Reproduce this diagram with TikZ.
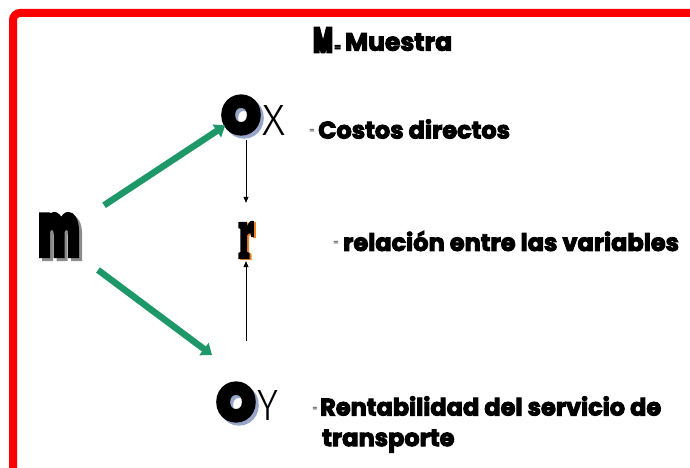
\documentclass[tikz,border=0pt]{standalone}
\usepackage{fontspec}
\setmainfont{Poppins}[BoldFeatures={FakeBold=4}]
\newfontfamily\heavyfont{Poppins}[BoldFeatures={FakeBold=12}]
\newfontfamily\serifheavy{Liberation Serif}[BoldFeatures={FakeBold=6}]
\newfontfamily\thinfont{Fira Sans Light}
\usetikzlibrary{arrows.meta}
\definecolor{framered}{RGB}{255,0,0}
\definecolor{arrowgreen}{RGB}{30,152,104}
\definecolor{oshadow}{RGB}{150,165,200}
\definecolor{mshadow}{RGB}{140,140,140}
\definecolor{rshadow}{RGB}{240,130,40}
\tikzset{
  label/.style={font=\fontsize{24}{26}\selectfont\bfseries, inner sep=0pt, anchor=west},
  eqsign/.style={font=\fontsize{8}{9}\selectfont, inner sep=0pt},
  greenarrow/.style={draw=arrowgreen, line width=6.5pt, -{Triangle[length=10pt,width=15pt]}},
  thinarrow/.style={draw=black, line width=0.7pt, -{Triangle[length=6pt,width=5pt]}},
  glyph/.style={inner sep=0pt},
  axis/.style={inner sep=0pt, anchor=west}
}
\newcommand{\myBigO}{\resizebox{37pt}{35pt}{\heavyfont\bfseries O}}
\newcommand{\myBigm}{\resizebox{40pt}{38pt}{\heavyfont\bfseries m}}
\newcommand{\myBigr}{\resizebox{15pt}{34pt}{\serifheavy\bfseries r}}
\begin{document}
\begin{tikzpicture}[x=1pt,y=-1pt]
\useasboundingbox (0,0) rectangle (690,468);
\clip (0,0) rectangle (690,468);
\fill[white] (0,0) rectangle (690,468);
\draw[framered, line width=8pt, rounded corners=7pt] (13,13) rectangle (760,520);

% title
\node[glyph] (Mbig) at (323,40) {\resizebox{19pt}{23pt}{\heavyfont\bfseries M}};
\node[label, anchor=west] (title) at (334,42) {{\fontsize{10}{10}\selectfont =}\,{\fontsize{25}{26}\selectfont Muestra}};

% left m
\node[glyph, text=mshadow] at (62,238) {\myBigm};
\node[glyph] (m) at (59,235) {\myBigm};

% Ox
\node[glyph, text=oshadow] at (244,118) {\myBigO};
\node[glyph] (Ox) at (241,115) {\myBigO};
\node[axis] (X) at (262,120) {\resizebox{23pt}{30pt}{\thinfont X}};

% r
\node[glyph, text=rshadow] at (248,241) {\myBigr};
\node[glyph] (r) at (246,240) {\myBigr};

% Oy
\node[glyph, text=oshadow] at (239,405) {\myBigO};
\node[glyph] (Oy) at (236,402) {\myBigO};
\node[axis] (Y) at (257,405) {\resizebox{21pt}{30pt}{\thinfont Y}};

% labels
\node[eqsign] (eq1) at (312,131) {=};
\node[label] (costos) at (318,129) {Costos directos};
\node[eqsign] (eq2) at (336,243) {=};
\node[label] (rel) at (343,241) {relación entre las variables};
\node[eqsign] (eq3) at (315,409) {=};
\node[label] (rent) at (320,406) {Rentabilidad del servicio de};
\node[label] (transp) at (322,441) {transporte};

% arrows
\coordinate (lowstart) at (98,270);
\coordinate (lowend) at (212,355);
\draw[greenarrow, shorten <=54pt, shorten >=19pt] (m.center) -- (Ox.center);
\draw[greenarrow] (lowstart) -- (lowend);
\draw[thinarrow, shorten <=7pt, shorten >=20pt] (Ox.south -| r.center) -- (r.north);
\draw[thinarrow, shorten <=43pt, shorten >=4pt] (Oy.north -| r.center) -- (r.south);
\end{tikzpicture}
\end{document}
